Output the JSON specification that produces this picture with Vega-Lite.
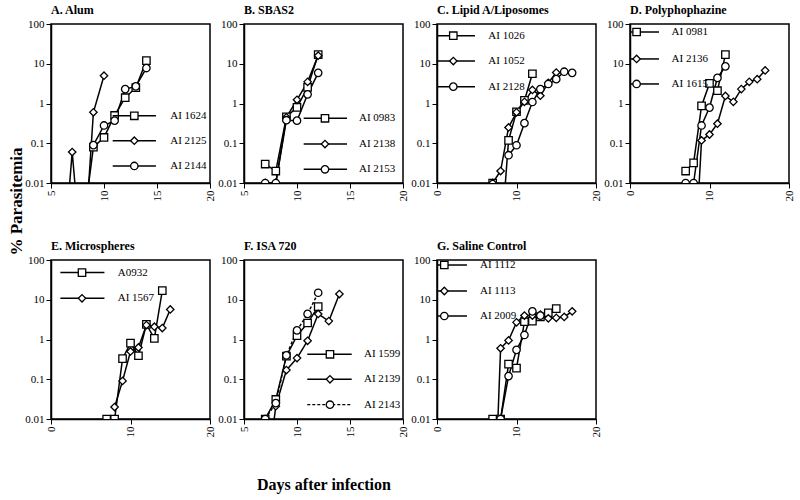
{
  "$schema": "https://vega.github.io/schema/vega-lite/v6.json",
  "padding": {"left": 6, "top": 3, "right": 5, "bottom": 2},
  "background": "white",
  "columns": 4,
  "bounds": "flush",
  "spacing": {"row": 77, "column": 34},
  "resolve": {"scale": {"shape": "independent", "strokeDash": "independent", "x": "independent", "y": "independent"}},
  "datasets": {"para": [
    {"panel": "A", "animal": "AI 1624", "day": 8, "p": 0.0007},
    {"panel": "A", "animal": "AI 1624", "day": 9, "p": 0.08},
    {"panel": "A", "animal": "AI 1624", "day": 10, "p": 0.14},
    {"panel": "A", "animal": "AI 1624", "day": 11, "p": 0.5},
    {"panel": "A", "animal": "AI 1624", "day": 12, "p": 1.4},
    {"panel": "A", "animal": "AI 1624", "day": 13, "p": 2.5},
    {"panel": "A", "animal": "AI 1624", "day": 14, "p": 12},
    {"panel": "A", "animal": "AI 2125", "day": 6, "p": 0.00003},
    {"panel": "A", "animal": "AI 2125", "day": 7, "p": 0.06},
    {"panel": "A", "animal": "AI 2125", "day": 8, "p": 0.00005},
    {"panel": "A", "animal": "AI 2125", "day": 9, "p": 0.6},
    {"panel": "A", "animal": "AI 2125", "day": 10, "p": 5},
    {"panel": "A", "animal": "AI 2144", "day": 9, "p": 0.09},
    {"panel": "A", "animal": "AI 2144", "day": 10, "p": 0.28},
    {"panel": "A", "animal": "AI 2144", "day": 11, "p": 0.37},
    {"panel": "A", "animal": "AI 2144", "day": 12, "p": 2.3},
    {"panel": "A", "animal": "AI 2144", "day": 13, "p": 2.7},
    {"panel": "A", "animal": "AI 2144", "day": 14, "p": 7.8},
    {"panel": "B", "animal": "AI 0983", "day": 7, "p": 0.03},
    {"panel": "B", "animal": "AI 0983", "day": 8, "p": 0.02},
    {"panel": "B", "animal": "AI 0983", "day": 9, "p": 0.46},
    {"panel": "B", "animal": "AI 0983", "day": 10, "p": 0.8},
    {"panel": "B", "animal": "AI 0983", "day": 11, "p": 2.55},
    {"panel": "B", "animal": "AI 0983", "day": 12, "p": 17},
    {"panel": "B", "animal": "AI 2138", "day": 7, "p": 0.01},
    {"panel": "B", "animal": "AI 2138", "day": 8, "p": 0.01},
    {"panel": "B", "animal": "AI 2138", "day": 9, "p": 0.45},
    {"panel": "B", "animal": "AI 2138", "day": 10, "p": 1.24},
    {"panel": "B", "animal": "AI 2138", "day": 11, "p": 3.5},
    {"panel": "B", "animal": "AI 2138", "day": 12, "p": 16},
    {"panel": "B", "animal": "AI 2153", "day": 7, "p": 0.01},
    {"panel": "B", "animal": "AI 2153", "day": 8, "p": 0.01},
    {"panel": "B", "animal": "AI 2153", "day": 9, "p": 0.38},
    {"panel": "B", "animal": "AI 2153", "day": 10, "p": 0.37},
    {"panel": "B", "animal": "AI 2153", "day": 11, "p": 1.7},
    {"panel": "B", "animal": "AI 2153", "day": 12, "p": 5.9},
    {"panel": "C", "animal": "AI 1026", "day": 7, "p": 0.01},
    {"panel": "C", "animal": "AI 1026", "day": 8, "p": 0.00025},
    {"panel": "C", "animal": "AI 1026", "day": 9, "p": 0.118},
    {"panel": "C", "animal": "AI 1026", "day": 10, "p": 0.62},
    {"panel": "C", "animal": "AI 1026", "day": 11, "p": 1.2},
    {"panel": "C", "animal": "AI 1026", "day": 12, "p": 5.6},
    {"panel": "C", "animal": "AI 1052", "day": 7, "p": 0.01},
    {"panel": "C", "animal": "AI 1052", "day": 8, "p": 0.02},
    {"panel": "C", "animal": "AI 1052", "day": 9, "p": 0.25},
    {"panel": "C", "animal": "AI 1052", "day": 10, "p": 0.6},
    {"panel": "C", "animal": "AI 1052", "day": 11, "p": 1.1},
    {"panel": "C", "animal": "AI 1052", "day": 12, "p": 2.2},
    {"panel": "C", "animal": "AI 1052", "day": 13, "p": 1.57},
    {"panel": "C", "animal": "AI 1052", "day": 14, "p": 3.3},
    {"panel": "C", "animal": "AI 1052", "day": 15, "p": 6.0},
    {"panel": "C", "animal": "AI 2128", "day": 9, "p": 0.05},
    {"panel": "C", "animal": "AI 2128", "day": 10, "p": 0.089},
    {"panel": "C", "animal": "AI 2128", "day": 11, "p": 0.32},
    {"panel": "C", "animal": "AI 2128", "day": 12, "p": 1.09},
    {"panel": "C", "animal": "AI 2128", "day": 13, "p": 2.3},
    {"panel": "C", "animal": "AI 2128", "day": 14, "p": 3.1},
    {"panel": "C", "animal": "AI 2128", "day": 15, "p": 4.1},
    {"panel": "C", "animal": "AI 2128", "day": 16, "p": 6.3},
    {"panel": "C", "animal": "AI 2128", "day": 17, "p": 5.9},
    {"panel": "D", "animal": "AI 0981", "day": 7, "p": 0.02},
    {"panel": "D", "animal": "AI 0981", "day": 8, "p": 0.032},
    {"panel": "D", "animal": "AI 0981", "day": 9, "p": 0.87},
    {"panel": "D", "animal": "AI 0981", "day": 10, "p": 3.2},
    {"panel": "D", "animal": "AI 0981", "day": 11, "p": 2.1},
    {"panel": "D", "animal": "AI 0981", "day": 12, "p": 17},
    {"panel": "D", "animal": "AI 2136", "day": 8, "p": 0.00003},
    {"panel": "D", "animal": "AI 2136", "day": 9, "p": 0.118},
    {"panel": "D", "animal": "AI 2136", "day": 10, "p": 0.166},
    {"panel": "D", "animal": "AI 2136", "day": 11, "p": 0.31},
    {"panel": "D", "animal": "AI 2136", "day": 12, "p": 1.55},
    {"panel": "D", "animal": "AI 2136", "day": 13, "p": 1.1},
    {"panel": "D", "animal": "AI 2136", "day": 14, "p": 2.3},
    {"panel": "D", "animal": "AI 2136", "day": 15, "p": 3.5},
    {"panel": "D", "animal": "AI 2136", "day": 16, "p": 4.1},
    {"panel": "D", "animal": "AI 2136", "day": 17, "p": 6.8},
    {"panel": "D", "animal": "AI 1615", "day": 7, "p": 0.01},
    {"panel": "D", "animal": "AI 1615", "day": 8, "p": 0.01},
    {"panel": "D", "animal": "AI 1615", "day": 9, "p": 0.28},
    {"panel": "D", "animal": "AI 1615", "day": 10, "p": 0.79},
    {"panel": "D", "animal": "AI 1615", "day": 11, "p": 4.4},
    {"panel": "D", "animal": "AI 1615", "day": 12, "p": 8.6},
    {"panel": "E", "animal": "A0932", "day": 7, "p": 0.01},
    {"panel": "E", "animal": "A0932", "day": 8, "p": 0.01},
    {"panel": "E", "animal": "A0932", "day": 9, "p": 0.33},
    {"panel": "E", "animal": "A0932", "day": 10, "p": 0.81},
    {"panel": "E", "animal": "A0932", "day": 11, "p": 0.39},
    {"panel": "E", "animal": "A0932", "day": 12, "p": 2.4},
    {"panel": "E", "animal": "A0932", "day": 13, "p": 1.07},
    {"panel": "E", "animal": "A0932", "day": 14, "p": 17},
    {"panel": "E", "animal": "AI 1567", "day": 8, "p": 0.02},
    {"panel": "E", "animal": "AI 1567", "day": 9, "p": 0.091},
    {"panel": "E", "animal": "AI 1567", "day": 10, "p": 0.5},
    {"panel": "E", "animal": "AI 1567", "day": 11, "p": 0.63},
    {"panel": "E", "animal": "AI 1567", "day": 12, "p": 2.3},
    {"panel": "E", "animal": "AI 1567", "day": 13, "p": 2.1},
    {"panel": "E", "animal": "AI 1567", "day": 14, "p": 1.94},
    {"panel": "E", "animal": "AI 1567", "day": 15, "p": 5.7},
    {"panel": "F", "animal": "AI 1599", "day": 7, "p": 0.01},
    {"panel": "F", "animal": "AI 1599", "day": 8, "p": 0.031},
    {"panel": "F", "animal": "AI 1599", "day": 9, "p": 0.38},
    {"panel": "F", "animal": "AI 1599", "day": 10, "p": 1.25},
    {"panel": "F", "animal": "AI 1599", "day": 11, "p": 2.6},
    {"panel": "F", "animal": "AI 1599", "day": 12, "p": 6.7},
    {"panel": "F", "animal": "AI 2139", "day": 7, "p": 0.00016},
    {"panel": "F", "animal": "AI 2139", "day": 8, "p": 0.021},
    {"panel": "F", "animal": "AI 2139", "day": 9, "p": 0.17},
    {"panel": "F", "animal": "AI 2139", "day": 10, "p": 0.34},
    {"panel": "F", "animal": "AI 2139", "day": 11, "p": 0.93},
    {"panel": "F", "animal": "AI 2139", "day": 12, "p": 4.4},
    {"panel": "F", "animal": "AI 2139", "day": 13, "p": 2.9},
    {"panel": "F", "animal": "AI 2139", "day": 14, "p": 13.9},
    {"panel": "F", "animal": "AI 2143", "day": 7, "p": 0.01},
    {"panel": "F", "animal": "AI 2143", "day": 8, "p": 0.025},
    {"panel": "F", "animal": "AI 2143", "day": 9, "p": 0.4},
    {"panel": "F", "animal": "AI 2143", "day": 10, "p": 1.7},
    {"panel": "F", "animal": "AI 2143", "day": 11, "p": 4.4},
    {"panel": "F", "animal": "AI 2143", "day": 12, "p": 15},
    {"panel": "G", "animal": "AI 1112", "day": 7, "p": 0.01},
    {"panel": "G", "animal": "AI 1112", "day": 8, "p": 0.01},
    {"panel": "G", "animal": "AI 1112", "day": 9, "p": 0.24},
    {"panel": "G", "animal": "AI 1112", "day": 10, "p": 0.19},
    {"panel": "G", "animal": "AI 1112", "day": 11, "p": 2.8},
    {"panel": "G", "animal": "AI 1112", "day": 12, "p": 2.9},
    {"panel": "G", "animal": "AI 1112", "day": 13, "p": 3.7},
    {"panel": "G", "animal": "AI 1112", "day": 14, "p": 4.7},
    {"panel": "G", "animal": "AI 1112", "day": 15, "p": 6.0},
    {"panel": "G", "animal": "AI 1113", "day": 7, "p": 0.000003},
    {"panel": "G", "animal": "AI 1113", "day": 8, "p": 0.6},
    {"panel": "G", "animal": "AI 1113", "day": 9, "p": 0.95},
    {"panel": "G", "animal": "AI 1113", "day": 10, "p": 2.7},
    {"panel": "G", "animal": "AI 1113", "day": 11, "p": 4.0},
    {"panel": "G", "animal": "AI 1113", "day": 12, "p": 4.0},
    {"panel": "G", "animal": "AI 1113", "day": 13, "p": 4.2},
    {"panel": "G", "animal": "AI 1113", "day": 14, "p": 3.4},
    {"panel": "G", "animal": "AI 1113", "day": 15, "p": 3.5},
    {"panel": "G", "animal": "AI 1113", "day": 16, "p": 3.7},
    {"panel": "G", "animal": "AI 1113", "day": 17, "p": 5.1},
    {"panel": "G", "animal": "AI 2009", "day": 8, "p": 0.01},
    {"panel": "G", "animal": "AI 2009", "day": 9, "p": 0.12},
    {"panel": "G", "animal": "AI 2009", "day": 10, "p": 0.55},
    {"panel": "G", "animal": "AI 2009", "day": 11, "p": 1.3},
    {"panel": "G", "animal": "AI 2009", "day": 12, "p": 5.1},
    {"panel": "G", "animal": "AI 2009", "day": 13, "p": 4.0}
  ],
  "one": [{}]},
  "concat": [
    {
      "width": 159, "height": 159,
      "title": {"text": "A.  Alum"},
      "layer": [
        {"data": {"name": "para"}, "transform": [{"filter": "datum.panel === 'A'"}],
         "mark": {"type": "line", "color": "black", "strokeWidth": 1.5, "clip": true},
         "encoding": {
           "x": {"field": "day", "type": "quantitative", "scale": {"domain": [5, 20], "nice": false, "zero": false}, "axis": {"values": [5, 10, 15, 20], "title": null}},
           "y": {"field": "p", "type": "quantitative", "scale": {"type": "log", "domain": [0.01, 100], "nice": false}, "axis": {"values": [0.01, 0.1, 1, 10, 100], "format": "~g", "title": "% Parasitemia", "titleFontSize": 17, "titleFontWeight": "bold", "titleX": -35, "titleY": 177, "titleBaseline": "middle", "titleAngle": -90, "titleAlign": "center"}},
           "detail": {"field": "animal"}}},
        {"data": {"name": "para"}, "transform": [{"filter": "datum.panel === 'A'"}],
         "mark": {"type": "point", "filled": true, "fill": "white", "stroke": "black", "strokeWidth": 1.3, "size": 55, "opacity": 1, "clip": true},
         "encoding": {"x": {"field": "day", "type": "quantitative"}, "y": {"field": "p", "type": "quantitative"},
           "shape": {"field": "animal", "type": "nominal", "scale": {"domain": ["AI 1624", "AI 2125", "AI 2144"], "range": ["square", "diamond", "circle"]}, "legend": null}}},
        {"data": {"name": "one"}, "mark": {"type": "rule", "color": "black", "strokeWidth": 1.5}, "encoding": {"x": {"datum": 10.82}, "x2": {"datum": 14.9}, "y": {"datum": 0.49}}},
        {"data": {"name": "one"}, "mark": {"type": "rule", "color": "black", "strokeWidth": 1.5}, "encoding": {"x": {"datum": 10.82}, "x2": {"datum": 14.9}, "y": {"datum": 0.116}}},
        {"data": {"name": "one"}, "mark": {"type": "rule", "color": "black", "strokeWidth": 1.5}, "encoding": {"x": {"datum": 10.82}, "x2": {"datum": 14.9}, "y": {"datum": 0.0268}}},
        {"data": {"name": "one"}, "mark": {"type": "point", "shape": "square", "filled": true, "fill": "white", "stroke": "black", "strokeWidth": 1.3, "size": 55, "opacity": 1}, "encoding": {"x": {"datum": 12.86}, "y": {"datum": 0.49}}},
        {"data": {"name": "one"}, "mark": {"type": "point", "shape": "diamond", "filled": true, "fill": "white", "stroke": "black", "strokeWidth": 1.3, "size": 55, "opacity": 1}, "encoding": {"x": {"datum": 12.86}, "y": {"datum": 0.116}}},
        {"data": {"name": "one"}, "mark": {"type": "point", "shape": "circle", "filled": true, "fill": "white", "stroke": "black", "strokeWidth": 1.3, "size": 55, "opacity": 1}, "encoding": {"x": {"datum": 12.86}, "y": {"datum": 0.0268}}},
        {"data": {"name": "one"}, "mark": {"type": "text", "align": "left", "baseline": "middle"}, "encoding": {"x": {"datum": 16.25}, "y": {"datum": 0.49}, "text": {"value": "AI 1624"}}},
        {"data": {"name": "one"}, "mark": {"type": "text", "align": "left", "baseline": "middle"}, "encoding": {"x": {"datum": 16.25}, "y": {"datum": 0.116}, "text": {"value": "AI 2125"}}},
        {"data": {"name": "one"}, "mark": {"type": "text", "align": "left", "baseline": "middle"}, "encoding": {"x": {"datum": 16.25}, "y": {"datum": 0.0268}, "text": {"value": "AI 2144"}}}
      ]
    },
    {
      "width": 159, "height": 159,
      "title": {"text": "B.   SBAS2"},
      "layer": [
        {"data": {"name": "para"}, "transform": [{"filter": "datum.panel === 'B'"}],
         "mark": {"type": "line", "color": "black", "strokeWidth": 1.5, "clip": true},
         "encoding": {
           "x": {"field": "day", "type": "quantitative", "scale": {"domain": [5, 20], "nice": false, "zero": false}, "axis": {"values": [5, 10, 15, 20], "title": null}},
           "y": {"field": "p", "type": "quantitative", "scale": {"type": "log", "domain": [0.01, 100], "nice": false}, "axis": {"values": [0.01, 0.1, 1, 10, 100], "format": "~g", "title": null}},
           "detail": {"field": "animal"}}},
        {"data": {"name": "para"}, "transform": [{"filter": "datum.panel === 'B'"}],
         "mark": {"type": "point", "filled": true, "fill": "white", "stroke": "black", "strokeWidth": 1.3, "size": 55, "opacity": 1, "clip": true},
         "encoding": {"x": {"field": "day", "type": "quantitative"}, "y": {"field": "p", "type": "quantitative"},
           "shape": {"field": "animal", "type": "nominal", "scale": {"domain": ["AI 0983", "AI 2138", "AI 2153"], "range": ["square", "diamond", "circle"]}, "legend": null}}},
        {"data": {"name": "one"}, "mark": {"type": "rule", "color": "black", "strokeWidth": 1.5}, "encoding": {"x": {"datum": 10.63}, "x2": {"datum": 14.72}, "y": {"datum": 0.424}}},
        {"data": {"name": "one"}, "mark": {"type": "rule", "color": "black", "strokeWidth": 1.5}, "encoding": {"x": {"datum": 10.63}, "x2": {"datum": 14.72}, "y": {"datum": 0.0957}}},
        {"data": {"name": "one"}, "mark": {"type": "rule", "color": "black", "strokeWidth": 1.5}, "encoding": {"x": {"datum": 10.63}, "x2": {"datum": 14.72}, "y": {"datum": 0.0221}}},
        {"data": {"name": "one"}, "mark": {"type": "point", "shape": "square", "filled": true, "fill": "white", "stroke": "black", "strokeWidth": 1.3, "size": 55, "opacity": 1}, "encoding": {"x": {"datum": 12.64}, "y": {"datum": 0.424}}},
        {"data": {"name": "one"}, "mark": {"type": "point", "shape": "diamond", "filled": true, "fill": "white", "stroke": "black", "strokeWidth": 1.3, "size": 55, "opacity": 1}, "encoding": {"x": {"datum": 12.64}, "y": {"datum": 0.0957}}},
        {"data": {"name": "one"}, "mark": {"type": "point", "shape": "circle", "filled": true, "fill": "white", "stroke": "black", "strokeWidth": 1.3, "size": 55, "opacity": 1}, "encoding": {"x": {"datum": 12.64}, "y": {"datum": 0.0221}}},
        {"data": {"name": "one"}, "mark": {"type": "text", "align": "left", "baseline": "middle"}, "encoding": {"x": {"datum": 15.85}, "y": {"datum": 0.424}, "text": {"value": "AI 0983"}}},
        {"data": {"name": "one"}, "mark": {"type": "text", "align": "left", "baseline": "middle"}, "encoding": {"x": {"datum": 15.85}, "y": {"datum": 0.0957}, "text": {"value": "AI 2138"}}},
        {"data": {"name": "one"}, "mark": {"type": "text", "align": "left", "baseline": "middle"}, "encoding": {"x": {"datum": 15.85}, "y": {"datum": 0.0221}, "text": {"value": "AI 2153"}}}
      ]
    },
    {
      "width": 159, "height": 159,
      "title": {"text": "C. Lipid A/Liposomes"},
      "layer": [
        {"data": {"name": "para"}, "transform": [{"filter": "datum.panel === 'C'"}],
         "mark": {"type": "line", "color": "black", "strokeWidth": 1.5, "clip": true},
         "encoding": {
           "x": {"field": "day", "type": "quantitative", "scale": {"domain": [0, 20], "nice": false, "zero": false}, "axis": {"values": [0, 5, 10, 15, 20], "title": null}},
           "y": {"field": "p", "type": "quantitative", "scale": {"type": "log", "domain": [0.01, 100], "nice": false}, "axis": {"values": [0.01, 0.1, 1, 10, 100], "format": "~g", "title": null}},
           "detail": {"field": "animal"}}},
        {"data": {"name": "para"}, "transform": [{"filter": "datum.panel === 'C'"}],
         "mark": {"type": "point", "filled": true, "fill": "white", "stroke": "black", "strokeWidth": 1.3, "size": 55, "opacity": 1, "clip": true},
         "encoding": {"x": {"field": "day", "type": "quantitative"}, "y": {"field": "p", "type": "quantitative"},
           "shape": {"field": "animal", "type": "nominal", "scale": {"domain": ["AI 1026", "AI 1052", "AI 2128"], "range": ["square", "diamond", "circle"]}, "legend": null}}},
        {"data": {"name": "one"}, "mark": {"type": "rule", "color": "black", "strokeWidth": 1.5}, "encoding": {"x": {"datum": 0}, "x2": {"datum": 4.78}, "y": {"datum": 50.8}}},
        {"data": {"name": "one"}, "mark": {"type": "rule", "color": "black", "strokeWidth": 1.5}, "encoding": {"x": {"datum": 0}, "x2": {"datum": 4.78}, "y": {"datum": 11.7}}},
        {"data": {"name": "one"}, "mark": {"type": "rule", "color": "black", "strokeWidth": 1.5}, "encoding": {"x": {"datum": 0}, "x2": {"datum": 4.78}, "y": {"datum": 2.65}}},
        {"data": {"name": "one"}, "mark": {"type": "point", "shape": "square", "filled": true, "fill": "white", "stroke": "black", "strokeWidth": 1.3, "size": 55, "opacity": 1}, "encoding": {"x": {"datum": 2.05}, "y": {"datum": 50.8}}},
        {"data": {"name": "one"}, "mark": {"type": "point", "shape": "diamond", "filled": true, "fill": "white", "stroke": "black", "strokeWidth": 1.3, "size": 55, "opacity": 1}, "encoding": {"x": {"datum": 2.05}, "y": {"datum": 11.7}}},
        {"data": {"name": "one"}, "mark": {"type": "point", "shape": "circle", "filled": true, "fill": "white", "stroke": "black", "strokeWidth": 1.3, "size": 55, "opacity": 1}, "encoding": {"x": {"datum": 2.05}, "y": {"datum": 2.65}}},
        {"data": {"name": "one"}, "mark": {"type": "text", "align": "left", "baseline": "middle"}, "encoding": {"x": {"datum": 6.45}, "y": {"datum": 50.8}, "text": {"value": "AI 1026"}}},
        {"data": {"name": "one"}, "mark": {"type": "text", "align": "left", "baseline": "middle"}, "encoding": {"x": {"datum": 6.45}, "y": {"datum": 11.7}, "text": {"value": "AI 1052"}}},
        {"data": {"name": "one"}, "mark": {"type": "text", "align": "left", "baseline": "middle"}, "encoding": {"x": {"datum": 6.45}, "y": {"datum": 2.65}, "text": {"value": "AI 2128"}}}
      ]
    },
    {
      "width": 159, "height": 159,
      "title": {"text": "D. Polyphophazine"},
      "layer": [
        {"data": {"name": "para"}, "transform": [{"filter": "datum.panel === 'D'"}],
         "mark": {"type": "line", "color": "black", "strokeWidth": 1.5, "clip": true},
         "encoding": {
           "x": {"field": "day", "type": "quantitative", "scale": {"domain": [0, 20], "nice": false, "zero": false}, "axis": {"values": [0, 5, 10, 15, 20], "title": null}},
           "y": {"field": "p", "type": "quantitative", "scale": {"type": "log", "domain": [0.01, 100], "nice": false}, "axis": {"values": [0.01, 0.1, 1, 10, 100], "format": "~g", "title": null}},
           "detail": {"field": "animal"}}},
        {"data": {"name": "para"}, "transform": [{"filter": "datum.panel === 'D'"}],
         "mark": {"type": "point", "filled": true, "fill": "white", "stroke": "black", "strokeWidth": 1.3, "size": 55, "opacity": 1, "clip": true},
         "encoding": {"x": {"field": "day", "type": "quantitative"}, "y": {"field": "p", "type": "quantitative"},
           "shape": {"field": "animal", "type": "nominal", "scale": {"domain": ["AI 0981", "AI 2136", "AI 1615"], "range": ["square", "diamond", "circle"]}, "legend": null}}},
        {"data": {"name": "one"}, "mark": {"type": "rule", "color": "black", "strokeWidth": 1.5}, "encoding": {"x": {"datum": 0}, "x2": {"datum": 3.65}, "y": {"datum": 62.9}}},
        {"data": {"name": "one"}, "mark": {"type": "rule", "color": "black", "strokeWidth": 1.5}, "encoding": {"x": {"datum": 0}, "x2": {"datum": 3.65}, "y": {"datum": 13.2}}},
        {"data": {"name": "one"}, "mark": {"type": "rule", "color": "black", "strokeWidth": 1.5}, "encoding": {"x": {"datum": 0}, "x2": {"datum": 3.65}, "y": {"datum": 3.1}}},
        {"data": {"name": "one"}, "mark": {"type": "point", "shape": "square", "filled": true, "fill": "white", "stroke": "black", "strokeWidth": 1.3, "size": 55, "opacity": 1}, "encoding": {"x": {"datum": 0.83}, "y": {"datum": 62.9}}},
        {"data": {"name": "one"}, "mark": {"type": "point", "shape": "diamond", "filled": true, "fill": "white", "stroke": "black", "strokeWidth": 1.3, "size": 55, "opacity": 1}, "encoding": {"x": {"datum": 0.83}, "y": {"datum": 13.2}}},
        {"data": {"name": "one"}, "mark": {"type": "point", "shape": "circle", "filled": true, "fill": "white", "stroke": "black", "strokeWidth": 1.3, "size": 55, "opacity": 1}, "encoding": {"x": {"datum": 0.83}, "y": {"datum": 3.1}}},
        {"data": {"name": "one"}, "mark": {"type": "text", "align": "left", "baseline": "middle"}, "encoding": {"x": {"datum": 5.23}, "y": {"datum": 62.9}, "text": {"value": "AI 0981"}}},
        {"data": {"name": "one"}, "mark": {"type": "text", "align": "left", "baseline": "middle"}, "encoding": {"x": {"datum": 5.23}, "y": {"datum": 13.2}, "text": {"value": "AI 2136"}}},
        {"data": {"name": "one"}, "mark": {"type": "text", "align": "left", "baseline": "middle"}, "encoding": {"x": {"datum": 5.23}, "y": {"datum": 3.1}, "text": {"value": "AI 1615"}}}
      ]
    },
    {
      "width": 159, "height": 159,
      "title": {"text": "E.  Microspheres"},
      "layer": [
        {"data": {"name": "para"}, "transform": [{"filter": "datum.panel === 'E'"}],
         "mark": {"type": "line", "color": "black", "strokeWidth": 1.5, "clip": true},
         "encoding": {
           "x": {"field": "day", "type": "quantitative", "scale": {"domain": [0, 20], "nice": false, "zero": false}, "axis": {"values": [0, 5, 10, 15, 20], "title": null}},
           "y": {"field": "p", "type": "quantitative", "scale": {"type": "log", "domain": [0.01, 100], "nice": false}, "axis": {"values": [0.01, 0.1, 1, 10, 100], "format": "~g", "title": null}},
           "detail": {"field": "animal"}}},
        {"data": {"name": "para"}, "transform": [{"filter": "datum.panel === 'E'"}],
         "mark": {"type": "point", "filled": true, "fill": "white", "stroke": "black", "strokeWidth": 1.3, "size": 55, "opacity": 1, "clip": true},
         "encoding": {"x": {"field": "day", "type": "quantitative"}, "y": {"field": "p", "type": "quantitative"},
           "shape": {"field": "animal", "type": "nominal", "scale": {"domain": ["A0932", "AI 1567"], "range": ["square", "diamond"]}, "legend": null}}},
        {"data": {"name": "one"}, "mark": {"type": "rule", "color": "black", "strokeWidth": 1.5}, "encoding": {"x": {"datum": 1.18}, "x2": {"datum": 6.72}, "y": {"datum": 48.2}}},
        {"data": {"name": "one"}, "mark": {"type": "rule", "color": "black", "strokeWidth": 1.5}, "encoding": {"x": {"datum": 1.18}, "x2": {"datum": 6.72}, "y": {"datum": 10.9}}},
        {"data": {"name": "one"}, "mark": {"type": "point", "shape": "square", "filled": true, "fill": "white", "stroke": "black", "strokeWidth": 1.3, "size": 55, "opacity": 1}, "encoding": {"x": {"datum": 3.9}, "y": {"datum": 48.2}}},
        {"data": {"name": "one"}, "mark": {"type": "point", "shape": "diamond", "filled": true, "fill": "white", "stroke": "black", "strokeWidth": 1.3, "size": 55, "opacity": 1}, "encoding": {"x": {"datum": 3.9}, "y": {"datum": 10.9}}},
        {"data": {"name": "one"}, "mark": {"type": "text", "align": "left", "baseline": "middle"}, "encoding": {"x": {"datum": 8.39}, "y": {"datum": 48.2}, "text": {"value": "A0932"}}},
        {"data": {"name": "one"}, "mark": {"type": "text", "align": "left", "baseline": "middle"}, "encoding": {"x": {"datum": 8.39}, "y": {"datum": 10.9}, "text": {"value": "AI 1567"}}}
      ]
    },
    {
      "width": 159, "height": 159,
      "title": {"text": "F.  ISA 720"},
      "layer": [
        {"data": {"name": "para"}, "transform": [{"filter": "datum.panel === 'F'"}],
         "mark": {"type": "line", "color": "black", "strokeWidth": 1.5, "clip": true},
         "encoding": {
           "x": {"field": "day", "type": "quantitative", "scale": {"domain": [5, 20], "nice": false, "zero": false}, "axis": {"values": [5, 10, 15, 20], "title": "Days after infection", "titleFontSize": 16, "titleFontWeight": "bold", "titleY": 70, "titleBaseline": "alphabetic"}},
           "y": {"field": "p", "type": "quantitative", "scale": {"type": "log", "domain": [0.01, 100], "nice": false}, "axis": {"values": [0.01, 0.1, 1, 10, 100], "format": "~g", "title": null}},
           "detail": {"field": "animal"},
           "strokeDash": {"field": "animal", "type": "nominal", "scale": {"domain": ["AI 1599", "AI 2139", "AI 2143"], "range": [[1, 0], [1, 0], [3, 2]]}, "legend": null}}},
        {"data": {"name": "para"}, "transform": [{"filter": "datum.panel === 'F'"}],
         "mark": {"type": "point", "filled": true, "fill": "white", "stroke": "black", "strokeWidth": 1.3, "size": 55, "opacity": 1, "clip": true},
         "encoding": {"x": {"field": "day", "type": "quantitative"}, "y": {"field": "p", "type": "quantitative"},
           "shape": {"field": "animal", "type": "nominal", "scale": {"domain": ["AI 1599", "AI 2139", "AI 2143"], "range": ["square", "diamond", "circle"]}, "legend": null}}},
        {"data": {"name": "one"}, "mark": {"type": "rule", "color": "black", "strokeWidth": 1.5}, "encoding": {"x": {"datum": 10.97}, "x2": {"datum": 15.16}, "y": {"datum": 0.424}}},
        {"data": {"name": "one"}, "mark": {"type": "rule", "color": "black", "strokeWidth": 1.5}, "encoding": {"x": {"datum": 10.97}, "x2": {"datum": 15.16}, "y": {"datum": 0.0997}}},
        {"data": {"name": "one"}, "mark": {"type": "rule", "color": "black", "strokeWidth": 1.3, "strokeDash": [3, 2]}, "encoding": {"x": {"datum": 10.97}, "x2": {"datum": 15.16}, "y": {"datum": 0.0229}}},
        {"data": {"name": "one"}, "mark": {"type": "point", "shape": "square", "filled": true, "fill": "white", "stroke": "black", "strokeWidth": 1.3, "size": 55, "opacity": 1}, "encoding": {"x": {"datum": 13.11}, "y": {"datum": 0.424}}},
        {"data": {"name": "one"}, "mark": {"type": "point", "shape": "diamond", "filled": true, "fill": "white", "stroke": "black", "strokeWidth": 1.3, "size": 55, "opacity": 1}, "encoding": {"x": {"datum": 13.11}, "y": {"datum": 0.0997}}},
        {"data": {"name": "one"}, "mark": {"type": "point", "shape": "circle", "filled": true, "fill": "white", "stroke": "black", "strokeWidth": 1.3, "size": 55, "opacity": 1}, "encoding": {"x": {"datum": 13.11}, "y": {"datum": 0.0229}}},
        {"data": {"name": "one"}, "mark": {"type": "text", "align": "left", "baseline": "middle"}, "encoding": {"x": {"datum": 16.32}, "y": {"datum": 0.424}, "text": {"value": "AI 1599"}}},
        {"data": {"name": "one"}, "mark": {"type": "text", "align": "left", "baseline": "middle"}, "encoding": {"x": {"datum": 16.32}, "y": {"datum": 0.0997}, "text": {"value": "AI 2139"}}},
        {"data": {"name": "one"}, "mark": {"type": "text", "align": "left", "baseline": "middle"}, "encoding": {"x": {"datum": 16.32}, "y": {"datum": 0.0229}, "text": {"value": "AI  2143"}}}
      ]
    },
    {
      "width": 159, "height": 159,
      "title": {"text": "G. Saline Control"},
      "layer": [
        {"data": {"name": "para"}, "transform": [{"filter": "datum.panel === 'G'"}],
         "mark": {"type": "line", "color": "black", "strokeWidth": 1.5, "clip": true},
         "encoding": {
           "x": {"field": "day", "type": "quantitative", "scale": {"domain": [0, 20], "nice": false, "zero": false}, "axis": {"values": [0, 5, 10, 15, 20], "title": null}},
           "y": {"field": "p", "type": "quantitative", "scale": {"type": "log", "domain": [0.01, 100], "nice": false}, "axis": {"values": [0.01, 0.1, 1, 10, 100], "format": "~g", "title": null}},
           "detail": {"field": "animal"}}},
        {"data": {"name": "para"}, "transform": [{"filter": "datum.panel === 'G'"}],
         "mark": {"type": "point", "filled": true, "fill": "white", "stroke": "black", "strokeWidth": 1.3, "size": 55, "opacity": 1, "clip": true},
         "encoding": {"x": {"field": "day", "type": "quantitative"}, "y": {"field": "p", "type": "quantitative"},
           "shape": {"field": "animal", "type": "nominal", "scale": {"domain": ["AI 1112", "AI 1113", "AI 2009"], "range": ["square", "diamond", "circle"]}, "legend": null}}},
        {"data": {"name": "one"}, "mark": {"type": "rule", "color": "black", "strokeWidth": 1.5}, "encoding": {"x": {"datum": 0}, "x2": {"datum": 3.77}, "y": {"datum": 74.8}}},
        {"data": {"name": "one"}, "mark": {"type": "rule", "color": "black", "strokeWidth": 1.5}, "encoding": {"x": {"datum": 0}, "x2": {"datum": 3.77}, "y": {"datum": 16.6}}},
        {"data": {"name": "one"}, "mark": {"type": "rule", "color": "black", "strokeWidth": 1.5}, "encoding": {"x": {"datum": 0}, "x2": {"datum": 3.77}, "y": {"datum": 3.9}}},
        {"data": {"name": "one"}, "mark": {"type": "point", "shape": "square", "filled": true, "fill": "white", "stroke": "black", "strokeWidth": 1.3, "size": 55, "opacity": 1}, "encoding": {"x": {"datum": 0.92}, "y": {"datum": 74.8}}},
        {"data": {"name": "one"}, "mark": {"type": "point", "shape": "diamond", "filled": true, "fill": "white", "stroke": "black", "strokeWidth": 1.3, "size": 55, "opacity": 1}, "encoding": {"x": {"datum": 0.92}, "y": {"datum": 16.6}}},
        {"data": {"name": "one"}, "mark": {"type": "point", "shape": "circle", "filled": true, "fill": "white", "stroke": "black", "strokeWidth": 1.3, "size": 55, "opacity": 1}, "encoding": {"x": {"datum": 0.92}, "y": {"datum": 3.9}}},
        {"data": {"name": "one"}, "mark": {"type": "text", "align": "left", "baseline": "middle"}, "encoding": {"x": {"datum": 5.41}, "y": {"datum": 74.8}, "text": {"value": "AI 1112"}}},
        {"data": {"name": "one"}, "mark": {"type": "text", "align": "left", "baseline": "middle"}, "encoding": {"x": {"datum": 5.41}, "y": {"datum": 16.6}, "text": {"value": "AI 1113"}}},
        {"data": {"name": "one"}, "mark": {"type": "text", "align": "left", "baseline": "middle"}, "encoding": {"x": {"datum": 5.41}, "y": {"datum": 3.9}, "text": {"value": "AI 2009"}}}
      ]
    }
  ],
  "config": {
    "font": "Liberation Serif",
    "view": {"stroke": "black", "strokeWidth": 1.5},
    "axis": {"domainColor": "black", "domainWidth": 1.5, "tickColor": "black", "tickSize": 5, "tickWidth": 1, "labelFont": "Liberation Serif", "labelFontSize": 11, "labelColor": "black", "grid": false, "labelPadding": 2, "labelFlush": false, "labelOverlap": false, "titleFont": "Liberation Serif", "titleColor": "black"},
    "axisX": {"labelAngle": -90},
    "title": {"font": "Liberation Serif", "fontSize": 12, "fontWeight": "bold", "color": "black", "anchor": "start", "frame": "group", "offset": 0, "dy": 3},
    "text": {"font": "Liberation Serif", "fontSize": 11, "color": "black"}
  }
}
